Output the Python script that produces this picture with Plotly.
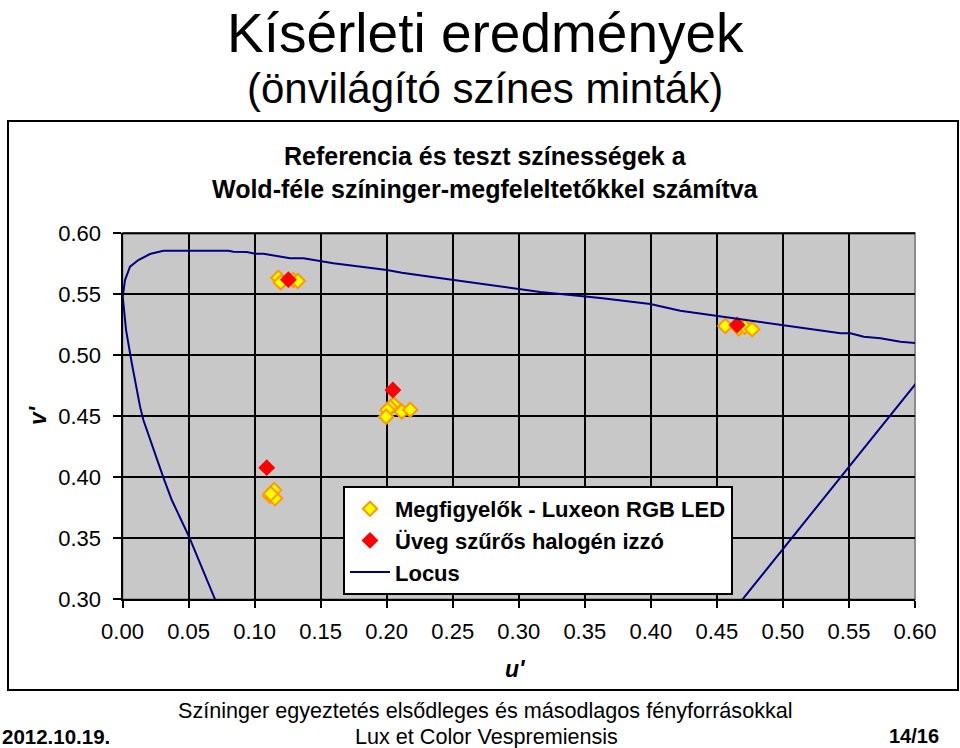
import plotly.graph_objects as go

# ---- data ----
locus_u = [0.0708, 0.0506, 0.0373, 0.0309, 0.0158, 0.0133, 0.0070, 0.0027, 0.0002, 0.0019,
           0.0057, 0.0120, 0.0208, 0.0309, 0.0802, 0.0839, 0.0941, 0.1004, 0.1067, 0.1269,
           0.1370, 0.1597, 0.2002, 0.2115, 0.2330, 0.2670, 0.3163, 0.3617, 0.3996, 0.4223,
           0.4502, 0.4729, 0.5006, 0.5436, 0.5511, 0.5612, 0.5739, 0.5890, 0.6042, 0.6057,
           0.4678]
locus_v = [0.2980, 0.3508, 0.3814, 0.4000, 0.4470, 0.4579, 0.4937, 0.5207, 0.5480, 0.5617,
           0.5726, 0.5781, 0.5830, 0.5857, 0.5857, 0.5849, 0.5847, 0.5833, 0.5833, 0.5795,
           0.5795, 0.5754, 0.5699, 0.5677, 0.5644, 0.5593, 0.5519, 0.5470, 0.5420, 0.5366,
           0.5322, 0.5289, 0.5248, 0.5180, 0.5180, 0.5152, 0.5139, 0.5111, 0.5098, 0.4836,
           0.2978]

led_u = [0.1180, 0.1198, 0.1294, 0.1327,
         0.2052, 0.2027, 0.2006, 0.1996, 0.2115, 0.2178,
         0.1148, 0.1117, 0.1155, 0.1122,
         0.4564, 0.4665, 0.4711, 0.4767]
led_v = [0.5636, 0.5598, 0.5617, 0.5609,
         0.4598, 0.4574, 0.4552, 0.4497, 0.4538, 0.4554,
         0.3896, 0.3849, 0.3828, 0.3865,
         0.5240, 0.5221, 0.5234, 0.5213]

halogen_u = [0.1256, 0.2047, 0.1092, 0.4653]
halogen_v = [0.5620, 0.4716, 0.4079, 0.5248]

x_ticks = [0.00, 0.05, 0.10, 0.15, 0.20, 0.25, 0.30, 0.35, 0.40, 0.45, 0.50, 0.55, 0.60]
y_ticks = [0.30, 0.35, 0.40, 0.45, 0.50, 0.55, 0.60]

FONT = "Liberation Sans, Arial, sans-serif"
W, H = 960, 748

fig = go.Figure()
fig.add_trace(go.Scatter(
    x=led_u, y=led_v, mode="markers", name="<b>Megfigyelők - Luxeon RGB LED</b>",
    marker=dict(symbol="diamond", size=11, color="#FFFF00",
                line=dict(color="#FF9900", width=2))))
fig.add_trace(go.Scatter(
    x=halogen_u, y=halogen_v, mode="markers", name="<b>Üveg szűrős halogén izzó</b>",
    marker=dict(symbol="diamond", size=13, color="#FF0000", line=dict(width=0))))
fig.add_trace(go.Scatter(
    x=locus_u, y=locus_v, mode="lines", name="<b>Locus</b>",
    line=dict(color="#000080", width=2)))

px0, px1 = 122.5, 915.0
py0, py1 = 233.3, 599.3

fig.update_layout(
    width=W, height=H, autosize=False,
    margin=dict(l=0, r=0, t=0, b=0, pad=0, autoexpand=False),
    paper_bgcolor="white",
    plot_bgcolor="#C8C8C8",
    font=dict(family=FONT, color="black", size=20),
    showlegend=True,
    legend=dict(x=343 / W, y=1 - 486 / H, xanchor="left", yanchor="top",
                bgcolor="white", bordercolor="black", borderwidth=2,
                font=dict(family=FONT, size=22, color="black"),
                tracegroupgap=0, itemwidth=40),
    xaxis=dict(domain=[px0 / W, px1 / W], range=[0, 0.6], tickvals=x_ticks,
               ticktext=[f"{t:.2f}" for t in x_ticks],
               showgrid=True, gridcolor="black", gridwidth=2,
               showline=True, linecolor="black", linewidth=2,
               ticks="outside", ticklen=7, tickwidth=2, tickcolor="black",
               ticklabelstandoff=4, zeroline=False, automargin=False,
               tickfont=dict(family=FONT, size=22)),
    yaxis=dict(domain=[1 - py1 / H, 1 - py0 / H], range=[0.3, 0.6], tickvals=y_ticks,
               ticktext=[f"{t:.2f}" for t in y_ticks],
               showgrid=True, gridcolor="black", gridwidth=2,
               showline=True, linecolor="black", linewidth=2,
               ticks="outside", ticklen=8, tickwidth=2, tickcolor="black",
               ticklabelstandoff=7, zeroline=False, automargin=False,
               tickfont=dict(family=FONT, size=22)),
)

shapes = [
    # plot-area frame (grey right edge)
    dict(type="rect", xref="paper", yref="paper", x0=px0 / W, x1=px1 / W,
         y0=1 - py1 / H, y1=1 - py0 / H,
         line=dict(color="#8C8C8C", width=2), layer="below"),
    # top border at 0.60
    dict(type="line", xref="paper", yref="paper", x0=px0 / W, x1=px1 / W,
         y0=1 - py0 / H, y1=1 - py0 / H, line=dict(color="black", width=2)),
    # outer chart frame
    dict(type="rect", xref="paper", yref="paper", x0=8 / W, x1=958 / W,
         y0=1 - 690 / H, y1=1 - 121 / H, line=dict(color="black", width=2)),
]
fig.update_layout(shapes=shapes)

annotations = [
    dict(text="Kísérleti eredmények", x=485 / W, y=1, yanchor="top", size=55),
    dict(text="(önvilágító színes minták)", x=485 / W, y=1 - 63 / H, yanchor="top", size=42),
    dict(text="<b>Referencia és teszt színességek a</b>", x=485 / W, y=1 - 156 / H, yanchor="middle", size=25),
    dict(text="<b>Wold-féle színinger-megfeleltetőkkel számítva</b>", x=485 / W, y=1 - 189 / H, yanchor="middle", size=25),
    dict(text="<b><i>u'</i></b>", x=515 / W, y=1 - 669 / H, yanchor="middle", size=23),
    dict(text="Színinger egyeztetés elsődleges és másodlagos fényforrásokkal", x=485 / W, y=1 - 710 / H, yanchor="middle", size=21.6),
    dict(text="Lux et Color Vespremiensis", x=486 / W, y=1 - 736 / H, yanchor="middle", size=21.6),
]
annotations = [dict(text=a["text"], x=a["x"], y=a["y"], xref="paper", yref="paper",
                    xanchor="center", yanchor=a["yanchor"], showarrow=False,
                    font=dict(family=FONT, size=a["size"], color="black")) for a in annotations]
annotations.append(dict(text="<b><i>v'</i></b>", x=38 / W, y=1 - 415 / H, xref="paper", yref="paper",
                        xanchor="center", yanchor="middle", showarrow=False, textangle=-90,
                        font=dict(family=FONT, size=23, color="black")))
annotations.append(dict(text="<b>2012.10.19.</b>", x=0, y=1 - 736 / H, xref="paper", yref="paper",
                        xanchor="left", yanchor="middle", showarrow=False,
                        font=dict(family=FONT, size=20.5, color="black")))
annotations.append(dict(text="<b>14/16</b>", x=941 / W, y=1 - 736 / H, xref="paper", yref="paper",
                        xanchor="right", yanchor="middle", showarrow=False,
                        font=dict(family=FONT, size=20, color="black")))
fig.update_layout(annotations=annotations)

fig.write_html("out.html", config={"responsive": False, "displayModeBar": False},
               post_script="document.body.style.margin='0';")
